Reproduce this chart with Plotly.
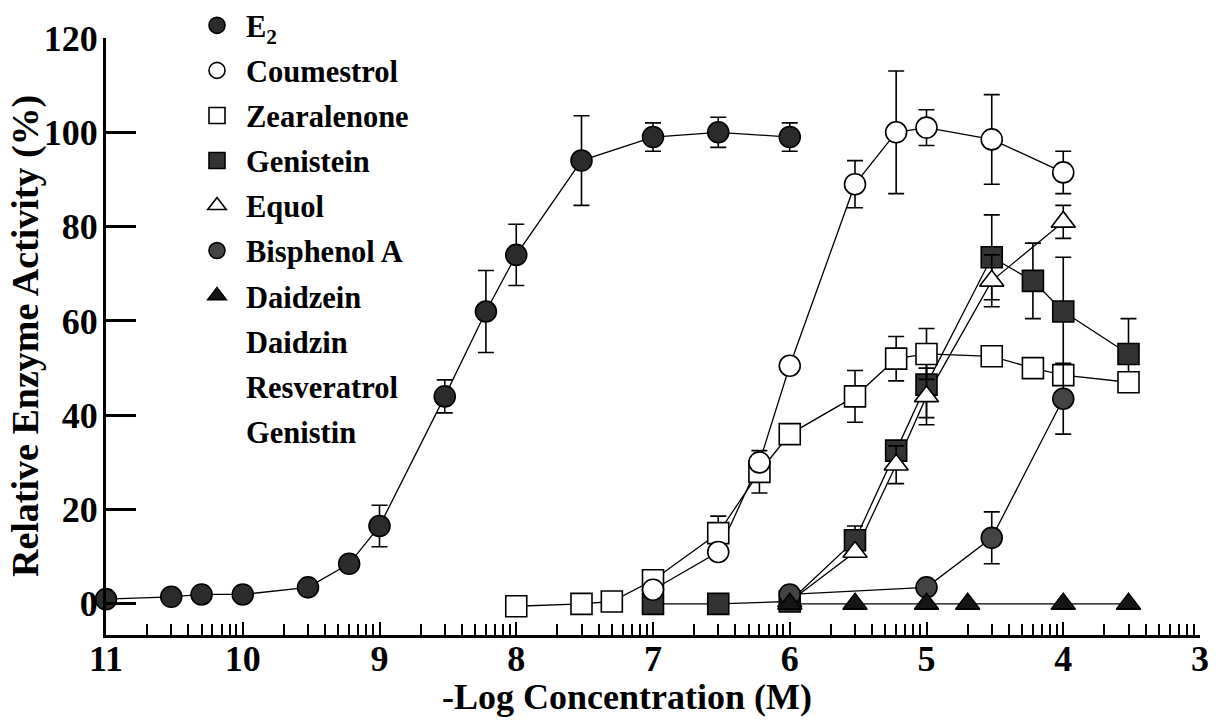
import numpy as np
import plotly.graph_objects as go

# Molar concentrations and relative enzyme activity (%) with SEM
e2_conc = [1e-11, 3e-11, 5e-11, 1e-10, 3e-10, 6e-10, 1e-9, 3e-9, 6e-9, 1e-8, 3e-8, 1e-7, 3e-7, 1e-6]
e2_act = [1.0, 1.5, 2.0, 2.0, 3.5, 8.5, 16.5, 44.0, 62.0, 74.0, 94.0, 99.0, 100.0, 99.0]
e2_err = [0, 0, 0, 0, 0.8, 1.0, 4.4, 3.5, 8.7, 6.5, 9.5, 3.0, 3.2, 3.0]

coum_conc = [1e-7, 3e-7, 6e-7, 1e-6, 3e-6, 6e-6, 1e-5, 3e-5, 1e-4]
coum_act = [3.0, 11.0, 30.0, 50.5, 89.0, 100.0, 101.0, 98.5, 91.5]
coum_err = [0, 0, 0, 0, 5.0, 13.0, 3.8, 9.5, 4.5]

zea_conc = [1e-8, 3e-8, 5e-8, 1e-7, 3e-7, 6e-7, 1e-6, 3e-6, 6e-6, 1e-5, 3e-5, 6e-5, 1e-4, 3e-4]
zea_act = [-0.5, 0.0, 0.5, 5.0, 15.0, 28.0, 36.0, 44.0, 52.0, 53.0, 52.5, 50.0, 48.5, 47.0]
zea_err = [0, 0, 0, 0, 3.6, 4.5, 0, 5.5, 4.7, 5.4, 0, 0, 0, 0]

gen_conc = [1e-7, 3e-7, 1e-6, 3e-6, 6e-6, 1e-5, 3e-5, 6e-5, 1e-4, 3e-4]
gen_act = [0.0, 0.0, 0.5, 13.5, 32.5, 46.5, 73.5, 68.5, 62.0, 53.0]
gen_err = [0, 0, 0, 3.0, 0, 7.0, 9.0, 8.0, 11.5, 7.5]

equol_conc = [1e-6, 3e-6, 6e-6, 1e-5, 3e-5, 1e-4]
equol_act = [0.5, 11.0, 29.5, 44.0, 68.5, 81.0]
equol_err = [0, 0, 4.0, 6.0, 5.5, 3.5]

bpa_conc = [1e-6, 1e-5, 3e-5, 1e-4]
bpa_act = [2.0, 3.5, 14.0, 43.5]
bpa_err = [0, 0, 5.5, 7.5]

daid_conc = [1e-6, 3e-6, 1e-5, 2e-5, 1e-4, 3e-4]
daid_act = [0.0, 0.0, 0.0, 0.0, 0.0, 0.0]
daid_err = [0, 0, 0, 0, 0, 0]

# compounds listed in the key without a plotted response
unplotted = ["Daidzin", "Resveratrol", "Genistin"]

y_ticks = [0, 20, 40, 60, 80, 100, 120]
x_ticks = [3, 4, 5, 6, 7, 8, 9, 10, 11]


def neglog(conc):
    return [-np.log10(c) for c in conc]


# minor log ticks inside each decade of the -log axis
minor_ticks = [d + 1 - np.log10(k) for d in range(3, 11) for k in range(2, 10)]

FONT = "Liberation Serif"

# (legend label, conc, activity, sem, symbol, fill, legend rank)
series = [
    ("E<sub>2</sub>", e2_conc, e2_act, e2_err, "circle", "#2b2b2b", 1),
    ("Genistein", gen_conc, gen_act, gen_err, "square", "#333333", 4),
    ("Equol", equol_conc, equol_act, equol_err, "triangle-up", "white", 5),
    ("Zearalenone", zea_conc, zea_act, zea_err, "square", "white", 3),
    ("Coumestrol", coum_conc, coum_act, coum_err, "circle", "white", 2),
    ("Bisphenol A", bpa_conc, bpa_act, bpa_err, "circle", "#444444", 6),
    ("Daidzein", daid_conc, daid_act, daid_err, "triangle-up", "#151515", 7),
]

fig = go.Figure()

# connecting lines underneath every symbol
for name, conc, act, err, symbol, fill, rank in series:
    fig.add_trace(go.Scatter(
        x=neglog(conc), y=act, mode="lines", showlegend=False,
        line=dict(color="black", width=1.3), hoverinfo="skip",
    ))

# symbols with SEM bars
for name, conc, act, err, symbol, fill, rank in series:
    fig.add_trace(go.Scatter(
        x=neglog(conc), y=act, name=name, legendrank=rank,
        legendgroup=name, mode="markers",
        marker=dict(symbol=symbol, size=21, color=fill,
                    line=dict(color="black", width=1.6)),
        error_y=dict(type="data", array=err, visible=True,
                     color="black", thickness=1.6, width=8),
        cliponaxis=False,
    ))

for rank, name in enumerate(unplotted, start=8):
    fig.add_trace(go.Scatter(
        x=[None], y=[None], name=name, legendrank=rank, legendgroup=name,
        mode="markers",
        marker=dict(size=16, color="rgba(0,0,0,0)", line=dict(width=0)),
    ))

L, R, T, B = 106, 24, 38, 85
plot_w = 1224 - L - R
plot_h = 720 - T - B

fig.update_layout(
    width=1224, height=720,
    margin=dict(l=L, r=R, t=T, b=B, autoexpand=False),
    paper_bgcolor="white", plot_bgcolor="white",
    font=dict(family=FONT, color="black", weight="bold"),
    legend=dict(
        x=(188 - L) / plot_w, xanchor="left",
        y=1 + 39 / plot_h, yanchor="top",
        font=dict(family=FONT, size=30.5, color="black", weight="bold"),
        bgcolor="rgba(0,0,0,0)", tracegroupgap=2.4, itemwidth=48,
        maxheight=720,
    ),
    showlegend=True,
    annotations=[
        dict(text="-Log Concentration (M)", x=(627 - L) / plot_w, xref="paper",
             y=(635 - 697) / plot_h, yref="paper", showarrow=False,
             xanchor="center", yanchor="middle",
             font=dict(family=FONT, size=36, color="black", weight="bold")),
        dict(text="Relative Enzyme Activity (%)", x=(25 - L) / plot_w,
             xref="paper", y=(635 - 336) / plot_h, yref="paper",
             xanchor="center", yanchor="middle",
             textangle=-90, showarrow=False,
             font=dict(family=FONT, size=38, color="black", weight="bold")),
    ],
)

fig.update_xaxes(
    range=[11, 3], tickmode="array", tickvals=x_ticks,
    ticktext=[str(v) for v in x_ticks],
    ticks="inside", ticklen=13, tickwidth=2, tickcolor="black",
    minor=dict(tickmode="array", tickvals=minor_ticks, ticks="inside",
               ticklen=11, tickwidth=1.6, tickcolor="black"),
    showline=True, linewidth=3, linecolor="black",
    showgrid=False, zeroline=False, automargin=False,
    ticklabelstandoff=-10,
    tickfont=dict(family=FONT, size=36, color="black", weight="bold"),
)

fig.update_yaxes(
    range=[-6.6, 120], tickmode="array", tickvals=y_ticks,
    ticks="inside", ticklen=30, tickwidth=2.5, tickcolor="black",
    showline=True, linewidth=3, linecolor="black",
    showgrid=False, zeroline=False, automargin=False,
    ticklabelstandoff=-2,
    tickfont=dict(family=FONT, size=36, color="black", weight="bold"),
)

fig.write_html("out.html")
